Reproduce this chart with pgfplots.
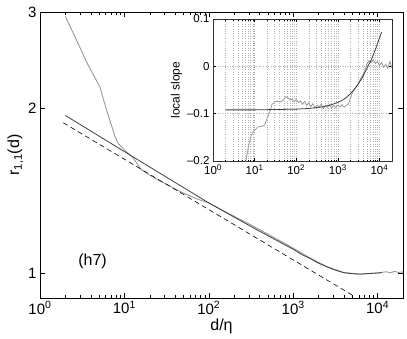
\documentclass[border=0pt]{standalone}
\usepackage{fontspec}
\setmainfont{Liberation Sans}
\usepackage{pgfplots}
\pgfplotsset{compat=1.18}

\definecolor{datagray}{gray}{0.6}
\definecolor{fitdark}{gray}{0.25}

\begin{document}
\begin{tikzpicture}
\useasboundingbox (-40pt,-40pt) rectangle (367pt,298pt);
% main panel
\begin{axis}[
  name=main, at={(0pt,0pt)}, anchor=south west,
  scale only axis, width=363pt, height=286pt,
  xmode=log, ymode=log,
  xmin=1, xmax=2e4, ymin=0.9, ymax=3,
  xtick={1,10,100,1000,10000},
  xticklabels={10\textsuperscript{0},10\textsuperscript{1},10\textsuperscript{2},10\textsuperscript{3},10\textsuperscript{4}},
  minor xtick={2,3,4,5,6,7,8,9,20,30,40,50,60,70,80,90,200,300,400,500,600,700,800,900,2000,3000,4000,5000,6000,7000,8000,9000,20000},
  ytick={1,2,3}, yticklabels={1,2,3},
  yminorticks=false,
  tick align=inside,
  major tick length=5pt, minor tick length=3pt,
  ticklabel style={font=\fontsize{15}{17}\selectfont},
  label style={font=\fontsize{16}{18}\selectfont},
  xlabel={d/η}, ylabel={r\textsubscript{1,1}(d)},
  xlabel style={yshift=2pt}, ylabel style={yshift=-2pt},
  axis line style={line width=0.7pt},
  every tick/.style={black, line width=0.5pt},
]
% measured r_{1,1}
\addplot[datagray, line width=0.9pt] coordinates {
(2,2.944)(2.818,2.630)(3.715,2.399)(5.129,2.188)(6.166,1.982)(7.762,1.774)
(8.511,1.722)(10.72,1.663)(12.59,1.626)(15.85,1.545)(19.95,1.510)(25.12,1.479)
(31.62,1.452)(39.81,1.426)(50.12,1.400)(63.10,1.378)(79.43,1.359)(100,1.343)
(177.8,1.281)(316.2,1.224)(562.3,1.166)(1000,1.110)(1585,1.065)(2512,1.027)
(3981,1.002)(6310,0.995)(10000,1.000)(12590,1.005)(14130,1.001)(15850,1.007)
(17780,1.002)(19950,1.005)};
% fit
\addplot[fitdark, line width=0.8pt] coordinates {
(2,1.941)(10,1.667)(100,1.343)(316.2,1.216)(1000,1.105)(1259,1.081)(1585,1.063)
(1995,1.042)(2512,1.026)(3162,1.012)(3981,1.001)(5012,0.9966)(6310,0.9954)
(7943,0.9977)(10000,1.000)(11220,1.001)};
% power law
\addplot[black, line width=0.6pt, dash pattern=on 5pt off 3.5pt] coordinates {
(1.888,1.882)(5129,0.909)};
\node[font=\fontsize{16}{18}\selectfont] at (axis cs:4.2,1.048) {(h7)};
\end{axis}
% inset: local slope
\begin{axis}[
  at={(173pt,137pt)}, anchor=south west,
  scale only axis, width=179pt, height=142pt,
  xmode=log, xmin=1, xmax=2e4, ymin=-0.2, ymax=0.1,
  xtick={1,10,100,1000,10000},
  xticklabels={10\textsuperscript{0},10\textsuperscript{1},10\textsuperscript{2},10\textsuperscript{3},10\textsuperscript{4}},
  minor xtick={2,3,4,5,6,7,8,9,20,30,40,50,60,70,80,90,200,300,400,500,600,700,800,900,2000,3000,4000,5000,6000,7000,8000,9000,20000},
  ytick={-0.2,-0.1,0,0.1}, yticklabels={--0.2,--0.1,0,0.1},
  xmajorgrids, xminorgrids, ymajorgrids,
  grid style={dotted, gray!60, line width=0.4pt},
  minor grid style={dotted, gray!60, line width=0.4pt},
  axis background/.style={fill=white},
  tick align=inside, major tick length=3pt, minor tick length=1.5pt,
  ticklabel style={font=\fontsize{11.5}{13}\selectfont},
  ylabel={local slope}, ylabel style={font=\fontsize{12}{14}\selectfont, yshift=-2pt},
  axis line style={line width=0.6pt, black!80},
  every tick/.style={black, line width=0.4pt},
]
\addplot[datagray, line width=0.8pt] coordinates {
(5.9,-0.215)(6.166,-0.200)(7.079,-0.170)(8.318,-0.145)(10,-0.135)(12.02,-0.128)
(14.45,-0.127)(17.38,-0.124)(19.95,-0.110)(22.91,-0.097)(26.30,-0.080)(30.20,-0.075)
(35.48,-0.074)(41.69,-0.075)(47.86,-0.072)(56.23,-0.064)(63.10,-0.066)(70.79,-0.071)
(79.43,-0.069)(89.13,-0.075)(100,-0.070)(112.2,-0.077)(125.9,-0.073)(141.3,-0.080)
(158.5,-0.074)(177.8,-0.083)(199.5,-0.077)(223.9,-0.085)(251.2,-0.079)(281.8,-0.088)
(316.2,-0.082)(354.8,-0.086)(398.1,-0.080)(446.7,-0.089)(501.2,-0.083)(562.3,-0.087)
(631.0,-0.081)(707.9,-0.088)(794.3,-0.083)(891.3,-0.087)(1000,-0.082)(1122,-0.086)
(1259,-0.081)(1413,-0.086)(1585,-0.083)(1778,-0.080)(1995,-0.068)(2239,-0.055)
(2512,-0.048)(2818,-0.042)(3162,-0.036)(3548,-0.025)(3981,-0.018)(4467,-0.008)
(5012,0.005)(5623,0.012)(6310,0.008)(7079,0.014)(7943,0.006)(8913,0.010)
(10000,0.002)(11220,0.008)(12590,-0.002)(14130,0.004)(15850,-0.004)(17780,0.010)
(19950,-0.003)};
\addplot[fitdark, line width=0.8pt] coordinates {
(2,-0.092)(10,-0.092)(100,-0.0905)(199.5,-0.089)(398.1,-0.086)(707.9,-0.081)
(1000,-0.076)(1259,-0.072)(1585,-0.066)(1995,-0.058)(2512,-0.048)(3162,-0.036)
(3981,-0.022)(5012,-0.004)(6310,0.013)(7943,0.035)(10000,0.060)(11220,0.072)};
\end{axis}
\end{tikzpicture}
\end{document}
